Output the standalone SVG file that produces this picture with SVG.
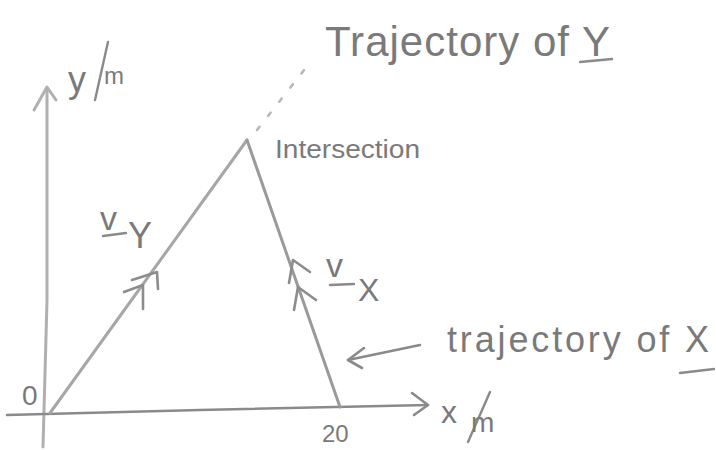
<svg xmlns="http://www.w3.org/2000/svg" width="716" height="450" viewBox="0 0 716 450">
<style>
.s{fill:none;stroke-linecap:round;stroke-linejoin:round}
.ax{stroke:#8a8a8a;stroke-width:2.6}
.ay{stroke:#b0b0b0;stroke-width:3}
.tr{stroke:#a6a6a6;stroke-width:3}
.ch{stroke:#8c8c8c;stroke-width:2.6}
.t{font-family:"Liberation Sans",Arial,sans-serif;fill:#7a7a7a}
.u{stroke:#8a8a8a;stroke-width:2.4;fill:none;stroke-linecap:round}
</style>
<rect width="716" height="450" fill="#ffffff"/>
<g id="axes">
  <path class="s ay" d="M43,447 L47,300 L47,88"/>
  <path class="s ay" d="M34,110 L47,87 L56,100"/>
  <path class="s ax" d="M7,415 Q120,412 200,410 T428,405"/>
  <path class="s ax" d="M412,393 L428,405 L414,415"/>
</g>
<g id="labels-axes">
  <text class="t" x="68" y="92" font-size="36">y</text>
  <path class="u" d="M108,42 L95,100"/>
  <text class="t" x="104" y="84" font-size="24">m</text>
  <text class="t" x="22" y="405" font-size="28">0</text>
  <text class="t" x="322" y="442" font-size="24">20</text>
  <text class="t" x="441" y="423" font-size="32">x</text>
  <path class="u" d="M490,392 L468,442"/>
  <text class="t" x="471" y="432" font-size="28">m</text>
</g>
<g id="connectors">
  <g id="trajectory-Y">
    <path class="s tr" d="M50,413 L247,140"/>
    <path class="s ch" d="M132,280 L157,272 L158,289"/>
    <path class="s ch" d="M124,292 L143,285 L143,309"/>
    <path class="s" stroke="#b8b8b8" stroke-width="2.6" stroke-dasharray="4 14" d="M257,130 L312,60"/>
  </g>
  <g id="trajectory-X">
    <path class="s" stroke="#9a9a9a" stroke-width="3" d="M247,140 L340,407"/>
    <path class="s ch" d="M289,283 L293,260 L310,272"/>
    <path class="s ch" d="M294,310 L298,287 L316,300"/>
  </g>
  <g id="pointer">
    <path class="s ax" d="M420,345 L348,360"/>
    <path class="s ax" d="M364,348 L348,360 L362,368"/>
  </g>
</g>
<g id="node-intersection">
  <text class="t" x="275" y="158" font-size="26" textLength="145" lengthAdjust="spacingAndGlyphs">Intersection</text>
</g>
<g id="node-trajectory-Y">
  <text class="t" x="325" y="56" font-size="42" textLength="285" lengthAdjust="spacing">Trajectory of Y</text>
  <path class="u" d="M580,62 L612,59"/>
</g>
<g id="node-trajectory-X">
  <text class="t" x="447" y="352" font-size="36" textLength="262" lengthAdjust="spacing">trajectory of X</text>
  <path class="u" d="M680,373 L714,369"/>
</g>
<g id="node-vY">
  <text class="t" x="100" y="230" font-size="34">v</text>
  <path class="u" d="M103,236 L126,233"/>
  <text class="t" x="128" y="248" font-size="36">Y</text>
</g>
<g id="node-vX">
  <text class="t" x="326" y="277" font-size="34">v</text>
  <path class="u" d="M330,285 L354,284"/>
  <text class="t" x="358" y="301" font-size="32">X</text>
</g>
</svg>
